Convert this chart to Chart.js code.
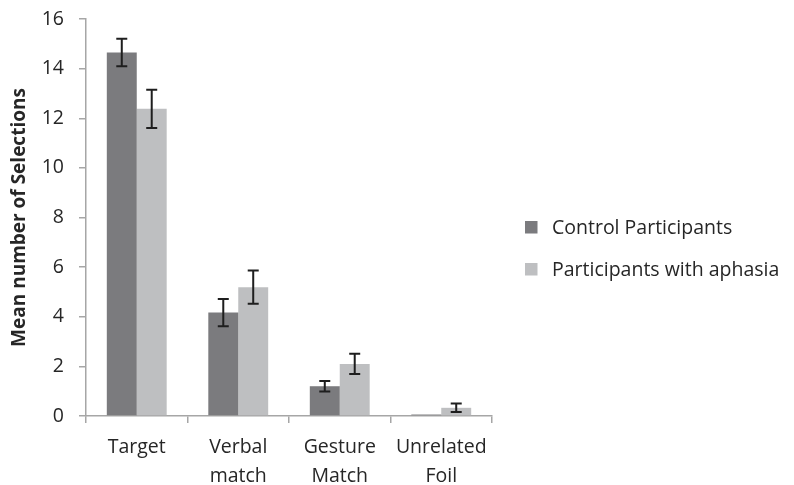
<!DOCTYPE html>
<html>
<head>
<meta charset="utf-8">
<script src="https://cdn.jsdelivr.net/npm/chart.js@4.4.0/dist/chart.umd.min.js"></script>
<style>
  html, body { margin: 0; padding: 0; background: #ffffff; }
  #wrap { width: 794px; height: 485px; }
</style>
</head>
<body>
<div id="wrap"><canvas id="c" width="794" height="485"></canvas></div>
<script>
const categories = [["Target"], ["Verbal", "match"], ["Gesture", "Match"], ["Unrelated", "Foil"]];
const seriesNames = ["Control Participants", "Participants with aphasia"];
const controlValues = [14.65, 4.17, 1.20, 0.06];
const aphasiaValues = [12.38, 5.19, 2.10, 0.33];
const controlErrors = [0.55, 0.55, 0.21, 0];
const aphasiaErrors = [0.77, 0.67, 0.41, 0.17];
const yTicks = [0, 2, 4, 6, 8, 10, 12, 14, 16];
const yTitle = "Mean number of Selections";

const FONT = "'Open Sans', Lato, sans-serif";
const FS = 19.5;
const TEXT = "#262626";
const AXIS = "#a6a6a6";

const errorBars = {
  id: "errorBars",
  afterDatasetsDraw(chart) {
    const ctx = chart.ctx;
    const y = chart.scales.y;
    const errs = [controlErrors, aphasiaErrors];
    ctx.save();
    ctx.strokeStyle = "#1e1e1e";
    ctx.lineWidth = 2;
    chart.data.datasets.forEach((ds, di) => {
      const meta = chart.getDatasetMeta(di);
      meta.data.forEach((bar, i) => {
        const e = errs[di][i];
        if (!e) return;
        const v = ds.data[i];
        const yt = y.getPixelForValue(v + e);
        const yb = y.getPixelForValue(v - e);
        const x = bar.x;
        const cw = 5.5;
        ctx.beginPath();
        ctx.moveTo(x, yt); ctx.lineTo(x, yb);
        ctx.moveTo(x - cw, yt); ctx.lineTo(x + cw, yt);
        ctx.moveTo(x - cw, yb); ctx.lineTo(x + cw, yb);
        ctx.stroke();
      });
    });
    ctx.restore();
  }
};

const legendAndTitle = {
  id: "legendAndTitle",
  afterDraw(chart) {
    const ctx = chart.ctx;
    ctx.save();
    ctx.font = FS + "px " + FONT;
    ctx.textBaseline = "alphabetic";
    ctx.textAlign = "left";
    const rows = [227, 269];
    chart.data.datasets.forEach((ds, i) => {
      ctx.fillStyle = ds.backgroundColor;
      ctx.fillRect(525, rows[i] - 6, 12.5, 12.5);
      ctx.fillStyle = TEXT;
      ctx.fillText(ds.label, 552, rows[i] + 7);
    });
    const a = chart.chartArea;
    ctx.translate(25, (a.top + a.bottom) / 2);
    ctx.rotate(-Math.PI / 2);
    ctx.font = "bold 19px " + FONT;
    ctx.textAlign = "center";
    ctx.fillStyle = TEXT;
    ctx.fillText(yTitle, 0, 0);
    ctx.restore();
  }
};

new Chart(document.getElementById("c"), {
  type: "bar",
  data: {
    labels: categories,
    datasets: [
      { label: seriesNames[0], data: controlValues, backgroundColor: "#7b7b7e", borderWidth: 0 },
      { label: seriesNames[1], data: aphasiaValues, backgroundColor: "#bebfc1", borderWidth: 0 }
    ]
  },
  options: {
    responsive: false,
    animation: false,
    devicePixelRatio: 1,
    layout: { padding: { left: 0, right: 302, top: 19, bottom: 0 } },
    plugins: { legend: { display: false }, tooltip: { enabled: false } },
    datasets: { bar: { categoryPercentage: 0.59, barPercentage: 1.0 } },
    scales: {
      x: {
        grid: { drawOnChartArea: false, drawTicks: true, tickLength: 7, color: AXIS, lineWidth: 1.5, offset: true },
        border: { color: AXIS, width: 1.5 },
        ticks: { color: TEXT, font: { family: FONT, size: FS, lineHeight: 1.48 }, padding: 10, maxRotation: 0, autoSkip: false },
        afterFit(s) { s.height = 69; s.paddingLeft = 0; s.paddingRight = 0; }
      },
      y: {
        min: 0, max: 16,
        afterBuildTicks(s) { s.ticks = yTicks.map(v => ({ value: v })); },
        grid: { drawOnChartArea: false, drawTicks: true, tickLength: 7, color: AXIS, lineWidth: 1.5 },
        border: { color: AXIS, width: 1.5 },
        ticks: { color: TEXT, font: { family: FONT, size: FS }, padding: 15 },
        afterFit(s) { s.width = 86; s.paddingTop = 0; s.paddingBottom = 0; }
      }
    }
  },
  plugins: [errorBars, legendAndTitle]
});
</script>
</body>
</html>
